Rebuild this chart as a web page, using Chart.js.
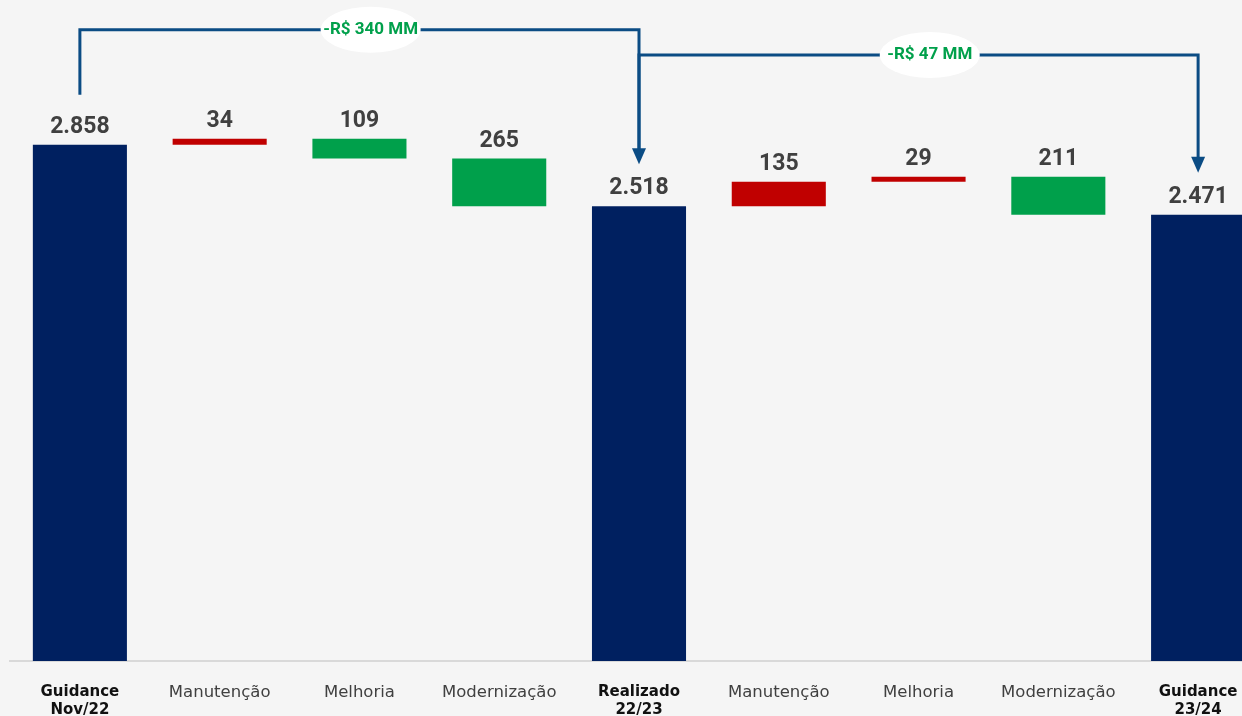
<!DOCTYPE html>
<html>
<head>
<meta charset="utf-8">
<script src="https://cdn.jsdelivr.net/npm/chart.js@4/dist/chart.umd.min.js"></script>
<style>
  html, body { margin: 0; padding: 0; background: #f5f5f5; overflow: hidden; }
  #wrap { width: 1242px; height: 716px; overflow: hidden; }
</style>
</head>
<body>
<div id="wrap"><canvas id="capexChart" width="1268" height="716"></canvas></div>
<script>
/* Data */
const categories = [
  ['Guidance', 'Nov/22'], 'Manutenção', 'Melhoria', 'Modernização',
  ['Realizado', '22/23'], 'Manutenção', 'Melhoria', 'Modernização',
  ['Guidance', '23/24']
];
const bar_kind = ['total', 'up', 'down', 'down', 'total', 'up', 'up', 'down', 'total'];
const bar_values = [2858, 34, 109, 265, 2518, 135, 29, 211, 2471];

// brackets between totals: from index, to index, level (y units), text
const bracket_from = [0, 4];
const bracket_to = [4, 8];
const bracket_level = [3495, 3355];
const bracket_text = ['-R$ 340 MM', '-R$ 47 MM'];

const colors = { total: '#002060', up: '#C00000', down: '#00A04B' };

/* build floating ranges */
const buildRanges = () => {
  let run = 0;
  return bar_values.map((v, i) => {
    const k = bar_kind[i];
    if (k == 'total') { run = v; return [0, v]; }
    if (k == 'up') { const r = [run, run + v]; run += v; return r; }
    const r = [run - v, run]; run -= v; return r;
  });
};

const fmt = v => String(v).replace(/\B(?=(\d{3})+(?!\d))/g, '.');

/* value labels above each bar */
const valueLabels = {
  id: 'valueLabels',
  afterDatasetsDraw(chart) {
    const ctx = chart.ctx;
    const meta = chart.getDatasetMeta(0);
    ctx.save();
    ctx.font = 'bold 23px Roboto';
    ctx.fillStyle = '#404040';
    ctx.textAlign = 'center';
    ctx.textBaseline = 'bottom';
    meta.data.forEach((bar, i) => {
      const top = Math.min(bar.y, bar.base);
      ctx.fillText(fmt(bar_values[i]), bar.x, top - 6);
    });
    ctx.restore();
  }
};

/* bracket arrows with difference bubble */
const brackets = {
  id: 'brackets',
  afterDatasetsDraw(chart) {
    const ctx = chart.ctx;
    const xs = chart.scales.x;
    const ys = chart.scales.y;
    const meta = chart.getDatasetMeta(0);
    ctx.save();
    for (let b = 0; b < bracket_from.length; b++) {
      const x1 = xs.getPixelForValue(bracket_from[b]);
      const x2 = xs.getPixelForValue(bracket_to[b]);
      const yl = ys.getPixelForValue(bracket_level[b]);
      const yStart = meta.data[bracket_from[b]].y - 50;
      const yEnd = meta.data[bracket_to[b]].y - 42;

      ctx.strokeStyle = '#0B4C84';
      ctx.lineWidth = 3;
      ctx.beginPath();
      ctx.moveTo(x1, yStart);
      ctx.lineTo(x1, yl);
      ctx.lineTo(x2, yl);
      ctx.lineTo(x2, yEnd - 14);
      ctx.stroke();

      ctx.fillStyle = '#0B4C84';
      ctx.beginPath();
      ctx.moveTo(x2 - 7, yEnd - 16);
      ctx.lineTo(x2 + 7, yEnd - 16);
      ctx.lineTo(x2, yEnd);
      ctx.closePath();
      ctx.fill();

      const mx = x1 + (x2 - x1) * 0.52;
      ctx.fillStyle = '#ffffff';
      ctx.beginPath();
      ctx.ellipse(mx, yl, 50, 23, 0, 0, Math.PI * 2);
      ctx.fill();

      ctx.font = 'bold 17px Roboto';
      ctx.fillStyle = '#00A04B';
      ctx.textAlign = 'center';
      ctx.textBaseline = 'middle';
      ctx.fillText(bracket_text[b], mx, yl);
    }
    ctx.restore();
  }
};

/* chart */
const ranges = buildRanges();
const chart_element = document.getElementById('capexChart');
const capex_chart = new Chart(chart_element.getContext('2d'), {
  type: 'bar',
  data: {
    labels: categories,
    datasets: [{
      data: ranges,
      backgroundColor: bar_kind.map(k => colors[k]),
      borderSkipped: false,
      barPercentage: 0.673,
      categoryPercentage: 1
    }]
  },
  options: {
    responsive: false,
    animation: false,
    layout: { padding: { left: 10, right: 0, top: 0, bottom: 0 } },
    plugins: { legend: { display: false }, tooltip: { enabled: false } },
    scales: {
      y: { display: false, min: 0, max: 3660 },
      x: {
        grid: { display: false },
        border: { display: true, color: '#d9d9d9', width: 2 },
        afterFit: scale => { scale.height = 55; },
        ticks: {
          padding: 14,
          autoSkip: false,
          maxRotation: 0,
          color: c => (bar_kind[c.index] == 'total' ? '#111111' : '#404040'),
          font: c => ({
            family: 'DejaVu Sans',
            size: bar_kind[c.index] == 'total' ? 15 : 16.5,
            weight: bar_kind[c.index] == 'total' ? 'bold' : 'normal',
            lineHeight: 1.2
          })
        }
      }
    }
  },
  plugins: [valueLabels, brackets]
});
</script>
</body>
</html>
